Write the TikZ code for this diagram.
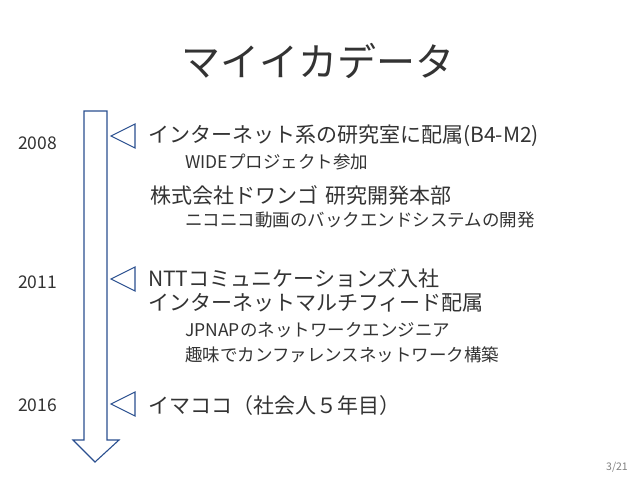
\documentclass[tikz,border=0pt]{standalone}
\usepackage{fontspec}
\setmainfont{Noto Sans CJK JP}
\usetikzlibrary{positioning}
\definecolor{arrowblue}{HTML}{2A4F8F}
\definecolor{textgray}{HTML}{333333}

\begin{document}
\begin{tikzpicture}[x=1pt, y=-1pt,
    main/.style={anchor=west, inner sep=0pt, text=textgray, font=\fontsize{21}{25}\selectfont},
    sub/.style={anchor=west, inner sep=0pt, text=textgray, font=\fontsize{17.5}{21}\selectfont},
    year/.style={anchor=west, inner sep=0pt, text=textgray, font=\fontsize{17.5}{20}\selectfont},
    blueline/.style={draw=arrowblue, line width=1.1pt, line join=miter}]
    \useasboundingbox (0,0) rectangle (638,479);

    % Titulo
    \node[inner sep=0pt, text=textgray, font=\fontsize{39}{44}\selectfont] (title) at (318,61) {マイイカデータ};

    % Flecha del tiempo
    \draw[blueline] (84,111) -- (107,111) -- (107,440) -- (119,440) -- (95,462)
        -- (73,440) -- (84,440) -- cycle;

    % Marcas
    \foreach \y/\name in {136/mA, 279/mB, 404/mC}{
        \draw[blueline] (135,\y-12) -- (111,\y) -- (135,\y+12) -- cycle;
        \coordinate (\name) at (148,\y);
    }

    % Anos
    \node[year] (y2008) at (18,143) {2008};
    \node[year] (y2011) at (18,282) {2011};
    \node[year] (y2016) at (18,405) {2016};

    % Eventos
    \node[main] (lab) at (148,136) {インターネット系の研究室に配属(B4-M2)};
    \node[sub] (wide) at (185,162) {WIDEプロジェクト参加};
    \node[main] (dwango) at (150,195) {株式会社ドワンゴ\hspace{7pt}研究開発本部};
    \node[sub] (nico) at (185,220) {ニコニコ動画のバックエンドシステムの開発};
    \node[main] (ntt) at (148,278) {NTTコミュニケーションズ入社};
    \node[main] (mfeed) at (148,303) {インターネットマルチフィード配属};
    \node[sub] (jpnap) at (185,330) {JPNAPのネットワークエンジニア};
    \node[sub] (hobby) at (185,355) {趣味でカンファレンスネットワーク構築};
    \node[main] (now) at (148,406) {イマココ（社会人５年目）};

    % Pagina
    \node[inner sep=0pt, text=gray, font=\fontsize{10.5}{12}\selectfont] (page) at (617,467) {3/21};
\end{tikzpicture}
\end{document}
